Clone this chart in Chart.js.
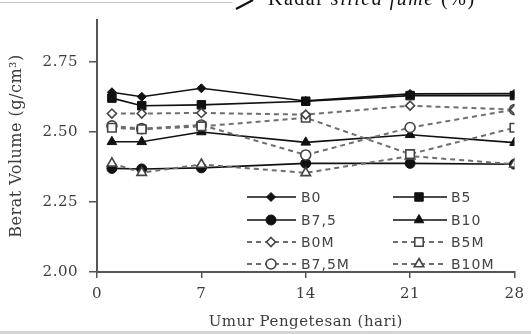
<!DOCTYPE html>
<html>
<head>
<meta charset="utf-8">
<script src="https://cdn.jsdelivr.net/npm/chart.js@4.4.0/dist/chart.umd.min.js"></script>
<style>
  html, body { margin: 0; padding: 0; background: #fff; }
  #wrap { width: 531px; height: 334px; }
</style>
</head>
<body>
<div id="wrap"><canvas id="myChart" width="531" height="334"></canvas></div>
<script>
// Umur pengetesan (hari) y berat volume (g/cm3)
const days = [1, 3, 7, 14, 21, 28];
const xTicks = [0, 7, 14, 21, 28];
const yTicks = [2.00, 2.25, 2.50, 2.75];

const b0    = [2.642, 2.626, 2.656, 2.611, 2.636, 2.637];
const b5    = [2.621, 2.594, 2.597, 2.610, 2.630, 2.630];
const b75   = [2.370, 2.368, 2.372, 2.388, 2.388, 2.385];
const b10   = [2.465, 2.465, 2.500, 2.463, 2.490, 2.462];
const b0m   = [2.566, 2.566, 2.568, 2.562, 2.594, 2.580];
const b5m   = [2.515, 2.510, 2.520, 2.551, 2.421, 2.515];
const b75m  = [2.522, 2.512, 2.525, 2.418, 2.516, 2.580];
const b10m  = [2.388, 2.355, 2.384, 2.354, 2.414, 2.385];

const names = ['B0', 'B5', 'B7,5', 'B10', 'B0M', 'B5M', 'B7,5M', 'B10M'];

document.addEventListener("DOMContentLoaded", function() {
  const ctx = document.getElementById('myChart').getContext('2d');
  Chart.defaults.font.family = "'DejaVu Serif', 'Liberation Serif', serif";

  const toPts = vals => days.map((d, i) => ({ x: d, y: vals[i] }));

  // garis penuh (hitam) dan garis putus-putus (abu)
  function solid(label, vals, style, r) {
    return {
      label: label, data: toPts(vals), order: 2,
      borderColor: '#111', borderWidth: 1.6,
      pointStyle: style, pointRadius: r,
      pointBackgroundColor: '#111', pointBorderColor: '#111', pointBorderWidth: 1
    };
  }
  function dashed(label, vals, style, r) {
    return {
      label: label, data: toPts(vals), order: 1,
      borderColor: '#6e6e6e', borderWidth: 2, borderDash: [5, 4],
      pointStyle: style, pointRadius: r,
      pointBackgroundColor: '#fff', pointBorderColor: '#444', pointBorderWidth: 1.6
    };
  }

  const datasets = [
    solid(names[0], b0, 'rectRot', 4.5),
    solid(names[1], b5, 'rect', 6),
    solid(names[2], b75, 'circle', 5),
    solid(names[3], b10, 'triangle', 5.5),
    dashed(names[4], b0m, 'rectRot', 4.5),
    dashed(names[5], b5m, 'rect', 6),
    dashed(names[6], b75m, 'circle', 5),
    dashed(names[7], b10m, 'triangle', 5.5)
  ];

  function marker(c, style, x, y, r) {
    c.beginPath();
    if (style === 'circle') {
      c.arc(x, y, r, 0, Math.PI * 2);
    } else if (style === 'rect') {
      const s = r * Math.SQRT1_2;
      c.rect(x - s, y - s, 2 * s, 2 * s);
    } else if (style === 'rectRot') {
      c.moveTo(x, y - r); c.lineTo(x + r, y); c.lineTo(x, y + r); c.lineTo(x - r, y); c.closePath();
    } else {
      const h = r * 1.5;
      c.moveTo(x, y - r); c.lineTo(x + h * 0.58, y + r * 0.5); c.lineTo(x - h * 0.58, y + r * 0.5); c.closePath();
    }
    c.fill(); c.stroke();
  }

  // legenda 2 kolom di dalam area grafik
  const legendPlugin = {
    id: 'legend2col',
    afterDatasetsDraw(chart) {
      const c = chart.ctx;
      const cols = [{ l: 247, m: 271, r: 296, t: 301 }, { l: 393, m: 419, r: 447, t: 451 }];
      const rows = [197, 220, 242, 264];
      c.save();
      c.letterSpacing = '1px';
      chart.data.datasets.forEach((ds, i) => {
        const col = cols[i % 2], y = rows[Math.floor(i / 2)];
        c.strokeStyle = ds.borderColor;
        c.lineWidth = ds.borderWidth;
        c.setLineDash(ds.borderDash || []);
        c.beginPath(); c.moveTo(col.l, y); c.lineTo(col.r, y); c.stroke();
        c.setLineDash([]);
        c.fillStyle = ds.pointBackgroundColor;
        c.strokeStyle = ds.pointBorderColor;
        c.lineWidth = ds.pointBorderWidth;
        marker(c, ds.pointStyle, col.m, y, ds.pointRadius);
        c.fillStyle = '#444';
        c.font = "14px 'DejaVu Sans', Arial, sans-serif";
        c.textBaseline = 'middle';
        c.textAlign = 'left';
        c.fillText(ds.label, col.t, y + 1);
      });
      c.restore();
    },
    beforeDraw(chart) {
      chart.ctx.letterSpacing = '0.5px';
    },
    afterDraw(chart) {
      const c = chart.ctx;
      c.save();
      // sisa gambar di atas (dipotong)
      c.strokeStyle = '#c8c8c8'; c.lineWidth = 1;
      c.beginPath(); c.moveTo(0, 2.5); c.lineTo(232, 2.5); c.stroke();
      c.strokeStyle = '#111'; c.lineWidth = 2.2;
      c.beginPath(); c.moveTo(236, 9); c.lineTo(253, 0); c.stroke();
      c.fillStyle = '#111'; c.textBaseline = 'alphabetic'; c.letterSpacing = '1.5px';
      let x = 268;
      c.font = "20px 'Liberation Serif', serif";
      c.fillText('Kadar ', x, 5); x += c.measureText('Kadar ').width;
      c.font = "italic 20px 'Liberation Serif', serif";
      c.fillText('silica fume', x, 5); x += c.measureText('silica fume').width;
      c.font = "20px 'Liberation Serif', serif";
      c.fillText(' (%)', x, 5);
      // garis abu di bawah
      c.fillStyle = '#d6d6d6';
      c.fillRect(0, 331, 531, 3);
      c.restore();
    }
  };

  const axisColor = '#555';
  const textColor = '#3c3c3c';

  const myChart = new Chart(ctx, {
    type: 'line',
    data: { datasets: datasets },
    options: {
      responsive: false,
      animation: false,
      layout: { padding: { top: 7, right: 10, left: 0, bottom: 0 } },
      plugins: {
        legend: { display: false },
        tooltip: { enabled: false }
      },
      scales: {
        x: {
          type: 'linear', min: 0, max: 28,
          afterBuildTicks: s => { s.ticks = xTicks.map(v => ({ value: v })); },
          afterFit: s => { s.height = 62; },
          grid: { display: true, drawOnChartArea: false, drawTicks: true, tickLength: 6, color: axisColor, lineWidth: 1.5 },
          border: { display: true, color: axisColor, width: 2 },
          ticks: { color: textColor, font: { size: 15 }, padding: 7 },
          title: { display: true, text: 'Umur Pengetesan (hari)', color: textColor, font: { size: 15 }, padding: { top: 0, bottom: 3 } }
        },
        y: {
          min: 2, max: 2.9,
          afterBuildTicks: s => { s.ticks = yTicks.map(v => ({ value: v })); },
          afterFit: s => { s.width = 97; },
          grid: { display: true, drawOnChartArea: false, drawTicks: true, tickLength: 8, color: axisColor, lineWidth: 1.5 },
          border: { display: true, color: axisColor, width: 2 },
          ticks: { color: textColor, font: { size: 15 }, padding: 11, callback: v => v.toFixed(2) },
          title: { display: true, text: 'Berat Volume (g/cm\u00b3)', color: textColor, font: { size: 16 }, padding: { top: 7, bottom: 0 } }
        }
      }
    },
    plugins: [legendPlugin]
  });
});
</script>
</body>
</html>
